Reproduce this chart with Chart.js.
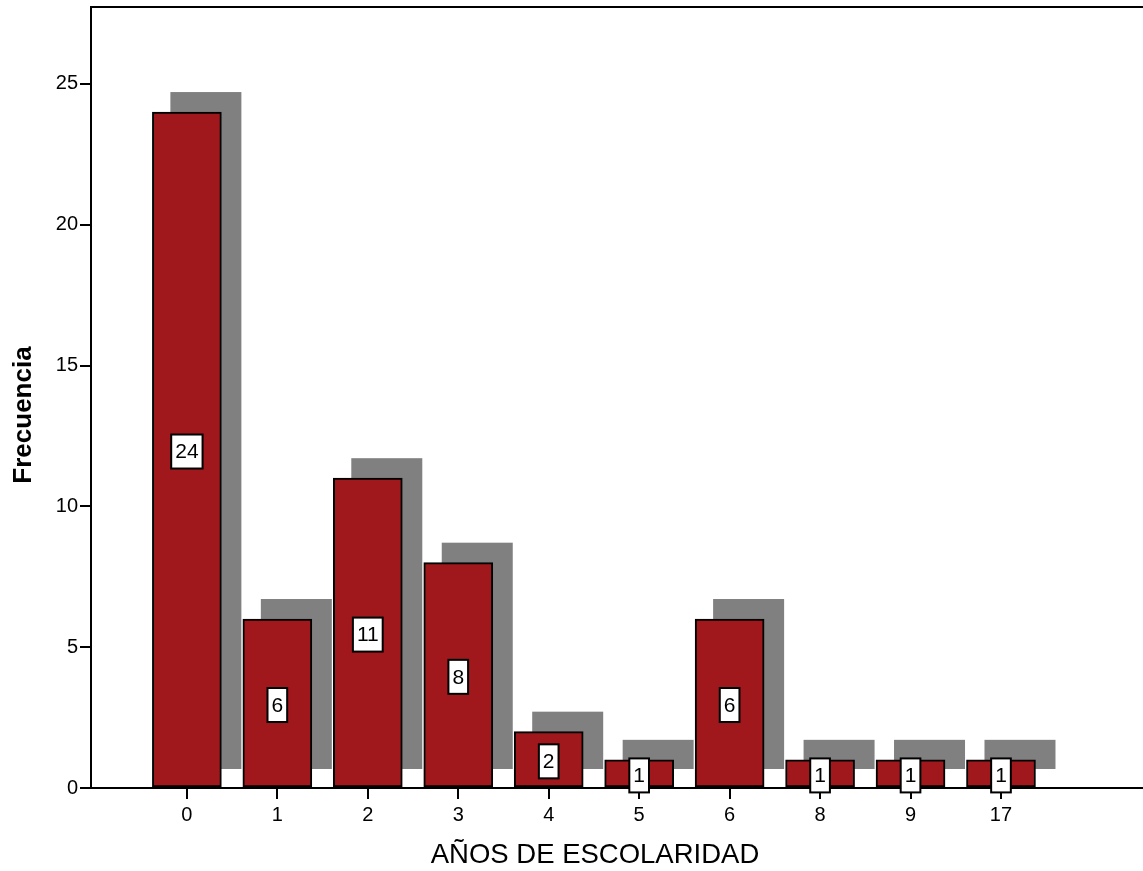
<!DOCTYPE html>
<html>
<head>
<meta charset="utf-8">
<script src="https://cdn.jsdelivr.net/npm/chart.js@4/dist/chart.umd.min.js"></script>
<style>
  body { margin: 0; background: #fff; }
  canvas { display: block; }
</style>
</head>
<body>
<canvas id="chart" width="1143" height="871"></canvas>
<script>
"use strict";

// categories (años de escolaridad) and their frequencies
const categories = ["0", "1", "2", "3", "4", "5", "6", "8", "9", "17"];
const frequencies = [24, 6, 11, 8, 2, 1, 6, 1, 1, 1];
const yTicks = [0, 5, 10, 15, 20, 25];

const fontFamily = "'Liberation Sans', Arial, sans-serif";

let points = [];
for (let i = 0; i < categories.length; i++) {
  points.push({ x: i, y: frequencies[i] });
}

// grey drop shadow behind each bar
const shadowPlugin = {
  id: "shadow",
  beforeDatasetsDraw(chart) {
    const ctx = chart.ctx;
    const meta = chart.getDatasetMeta(0);
    ctx.save();
    ctx.fillStyle = "#808080";
    meta.data.forEach(function (bar) {
      const left = bar.x - bar.width / 2 + 18;
      const top = bar.y - 20;
      const bottom = bar.base - 18;
      ctx.fillRect(left, top, bar.width + 2, bottom - top);
    });
    ctx.restore();
  }
};

// white boxes with the value in the middle of each bar
const labelPlugin = {
  id: "labels",
  afterDatasetsDraw(chart) {
    const ctx = chart.ctx;
    const meta = chart.getDatasetMeta(0);
    ctx.save();
    ctx.font = "21px " + fontFamily;
    ctx.textAlign = "center";
    ctx.textBaseline = "middle";
    meta.data.forEach(function (bar, i) {
      const text = String(frequencies[i]);
      const w = ctx.measureText(text).width + 8;
      const h = 34;
      const cy = (bar.y + bar.base) / 2 + 2;
      ctx.fillStyle = "#ffffff";
      ctx.fillRect(bar.x - w / 2, cy - h / 2, w, h);
      ctx.strokeStyle = "#000000";
      ctx.lineWidth = 2;
      ctx.strokeRect(bar.x - w / 2, cy - h / 2, w, h);
      ctx.fillStyle = "#000000";
      ctx.fillText(text, bar.x, cy + 1);
    });
    ctx.restore();
  }
};

// top frame line and axis titles
const framePlugin = {
  id: "frame",
  afterDraw(chart) {
    const ctx = chart.ctx;
    const area = chart.chartArea;
    ctx.save();
    ctx.strokeStyle = "#000000";
    ctx.lineWidth = 2;
    ctx.beginPath();
    ctx.moveTo(area.left, area.top);
    ctx.lineTo(area.right, area.top);
    ctx.stroke();

    ctx.fillStyle = "#000000";
    ctx.textAlign = "center";
    ctx.textBaseline = "middle";
    ctx.font = "27.5px " + fontFamily;
    ctx.fillText("AÑOS DE ESCOLARIDAD", 595, 855);

    ctx.translate(24, 415);
    ctx.rotate(-Math.PI / 2);
    ctx.font = "bold 26px " + fontFamily;
    ctx.fillText("Frecuencia", 0, 0);
    ctx.restore();
  }
};

function noScalePadding(axis) {
  axis.paddingTop = 0;
  axis.paddingBottom = 0;
  axis.paddingLeft = 0;
  axis.paddingRight = 0;
}

const data = {
  datasets: [
    {
      label: "Frecuencia",
      data: points,
      backgroundColor: "#a0181c",
      borderColor: "#000000",
      borderWidth: 2,
      borderSkipped: false,
      barThickness: 69
    }
  ]
};

const config = {
  type: "bar",
  data: data,
  options: {
    responsive: false,
    animation: false,
    layout: { padding: { top: 7, right: 0, left: 0, bottom: 0 } },
    plugins: {
      legend: { display: false },
      tooltip: { enabled: false }
    },
    scales: {
      x: {
        type: "linear",
        offset: false,
        min: -1.06,
        max: 10.57,
        afterBuildTicks(axis) {
          axis.ticks = categories.map(function (c, i) { return { value: i }; });
        },
        afterFit(axis) {
          axis.height = 83;
          noScalePadding(axis);
        },
        ticks: {
          autoSkip: false,
          maxRotation: 0,
          padding: 4,
          color: "#000000",
          font: { family: fontFamily, size: 20 },
          callback: function (value) { return categories[value]; }
        },
        grid: {
          offset: false,
          drawOnChartArea: false,
          drawTicks: true,
          tickLength: 11,
          color: "#000000",
          lineWidth: 2
        },
        border: { display: true, color: "#000000", width: 2 }
      },
      y: {
        min: 0,
        max: 27.73,
        afterBuildTicks(axis) {
          axis.ticks = yTicks.map(function (v) { return { value: v }; });
        },
        afterFit(axis) {
          axis.width = 91;
          noScalePadding(axis);
        },
        ticks: {
          padding: 2,
          color: "#000000",
          font: { family: fontFamily, size: 20 }
        },
        grid: {
          drawOnChartArea: false,
          drawTicks: true,
          tickLength: 11,
          color: "#000000",
          lineWidth: 2
        },
        border: { display: true, color: "#000000", width: 2 }
      }
    }
  },
  plugins: [shadowPlugin, labelPlugin, framePlugin]
};

const newChart = new Chart(document.getElementById("chart"), config);
</script>
</body>
</html>
